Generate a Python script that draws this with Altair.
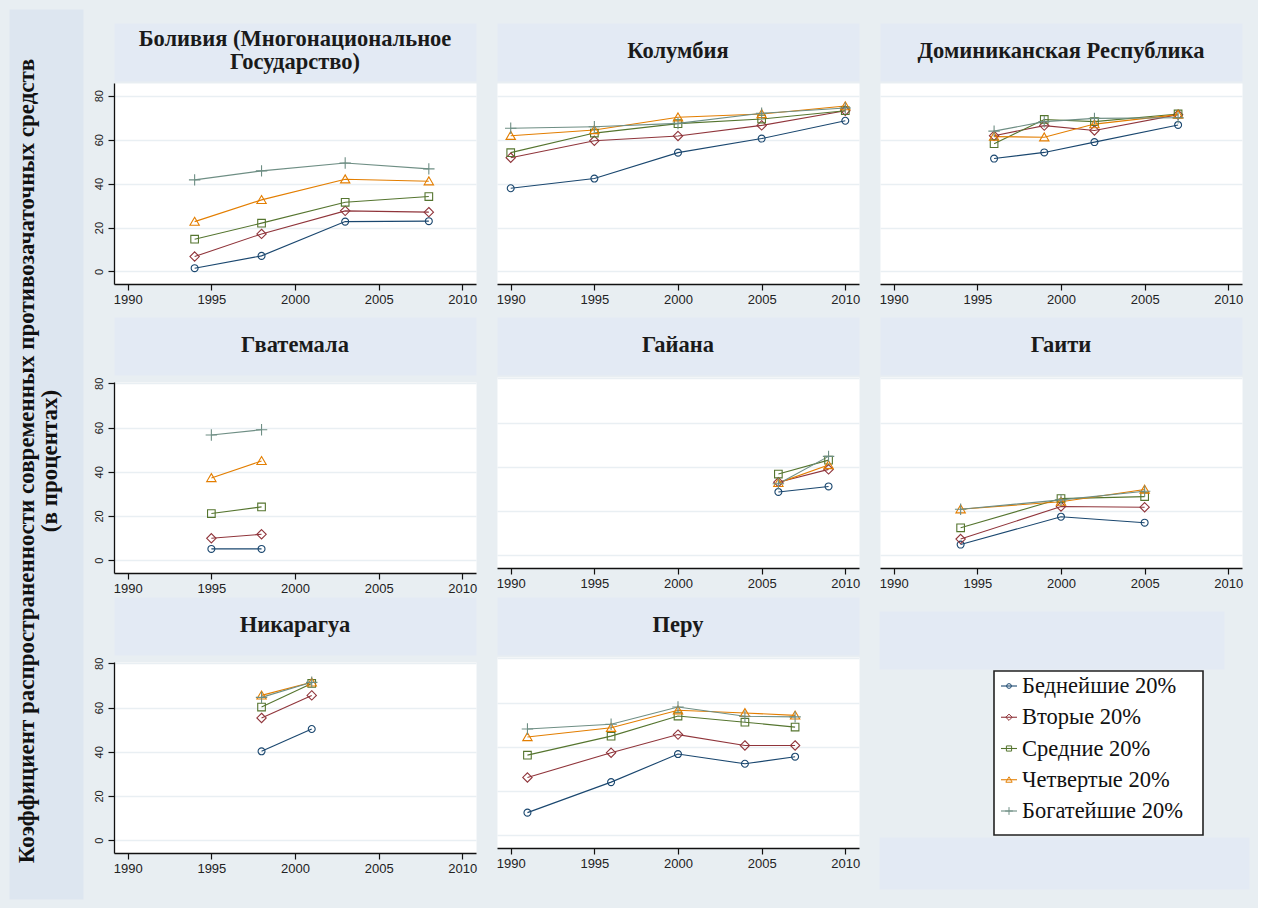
import altair as alt
import pandas as pd

# Quintile groups (legend order)
groups = ["Беднейшие 20%", "Вторые 20%", "Средние 20%", "Четвертые 20%", "Богатейшие 20%"]

# Bolivia
bolivia_years = [1994, 1998, 2003, 2008]
bolivia_poorest = [1.5, 7.1, 22.7, 22.9]
bolivia_second = [6.8, 17.1, 27.6, 27.0]
bolivia_middle = [14.7, 22.0, 31.5, 34.1]
bolivia_fourth = [22.7, 32.6, 42.0, 41.1]
bolivia_richest = [41.7, 45.8, 49.4, 46.7]

# Colombia
colombia_years = [1990, 1995, 2000, 2005, 2010]
colombia_poorest = [37.9, 42.3, 54.1, 60.5, 68.6]
colombia_second = [51.8, 59.5, 61.7, 66.5, 73.2]
colombia_middle = [54.1, 63.0, 67.3, 69.4, 73.2]
colombia_fourth = [61.8, 64.4, 70.2, 71.7, 75.3]
colombia_richest = [65.2, 65.9, 67.4, 72.0, 74.4]

# Dominican Republic
dominican_years = [1996, 1999, 2002, 2007]
dominican_poorest = [51.4, 54.2, 58.9, 66.7]
dominican_second = [61.8, 66.4, 64.2, 71.4]
dominican_middle = [58.2, 69.2, 68.2, 71.7]
dominican_fourth = [61.4, 61.1, 67.1, 71.4]
dominican_richest = [63.9, 68.2, 69.7, 70.0]

# Guatemala
guatemala_years = [1995, 1998]
guatemala_poorest = [5.1, 5.1]
guatemala_second = [9.9, 11.7]
guatemala_middle = [21.1, 24.1]
guatemala_fourth = [37.2, 44.9]
guatemala_richest = [56.6, 59.0]

# Guyana
guyana_years = [2006, 2009]
guyana_poorest = [28.6, 31.1]
guyana_second = [33.0, 38.8]
guyana_middle = [36.7, 43.0]
guyana_fourth = [32.7, 40.8]
guyana_richest = [32.3, 44.7]

# Haiti
haiti_years = [1994, 2000, 2005]
haiti_poorest = [4.8, 17.4, 14.7]
haiti_second = [7.3, 22.0, 21.7]
haiti_middle = [12.4, 25.6, 26.5]
haiti_fourth = [20.8, 24.2, 29.7]
haiti_richest = [20.8, 25.0, 28.9]

# Nicaragua
nicaragua_years = [1998, 2001]
nicaragua_poorest = [40.2, 50.3]
nicaragua_second = [55.3, 65.5]
nicaragua_middle = [60.2, 70.9]
nicaragua_fourth = [65.5, 71.4]
nicaragua_richest = [64.6, 71.4]

# Peru
peru_years = [1991, 1996, 2000, 2004, 2007]
peru_poorest = [10.2, 24.0, 36.7, 32.3, 35.5]
peru_second = [26.1, 37.3, 45.5, 40.6, 40.6]
peru_middle = [36.2, 44.8, 53.9, 51.1, 48.9]
peru_fourth = [44.4, 48.6, 56.5, 55.3, 54.2]
peru_richest = [48.0, 50.2, 58.0, 53.8, 53.5]

panels = [
    ("Боливия (Многонациональное\nГосударство)", bolivia_years,
     [bolivia_poorest, bolivia_second, bolivia_middle, bolivia_fourth, bolivia_richest]),
    ("Колумбия", colombia_years,
     [colombia_poorest, colombia_second, colombia_middle, colombia_fourth, colombia_richest]),
    ("Доминиканская Республика", dominican_years,
     [dominican_poorest, dominican_second, dominican_middle, dominican_fourth, dominican_richest]),
    ("Гватемала", guatemala_years,
     [guatemala_poorest, guatemala_second, guatemala_middle, guatemala_fourth, guatemala_richest]),
    ("Гайана", guyana_years,
     [guyana_poorest, guyana_second, guyana_middle, guyana_fourth, guyana_richest]),
    ("Гаити", haiti_years,
     [haiti_poorest, haiti_second, haiti_middle, haiti_fourth, haiti_richest]),
    ("Никарагуа", nicaragua_years,
     [nicaragua_poorest, nicaragua_second, nicaragua_middle, nicaragua_fourth, nicaragua_richest]),
    ("Перу", peru_years,
     [peru_poorest, peru_second, peru_middle, peru_fourth, peru_richest]),
]

y_title = ("Коэффициент распространенности современных противозачаточных средств\n"
           "(в процентах)")

# Styling
colors = ["#1a476f", "#90353b", "#55752f", "#e37e00", "#6e8e84"]
shapes = [
    "circle",
    "M0,-1.35L1.35,0L0,1.35L-1.35,0Z",
    "M-1.1,-1.1L1.1,-1.1L1.1,1.1L-1.1,1.1Z",
    "M0,-1.25L1.35,1.05L-1.35,1.05Z",
    "M-1.65,0L1.65,0M0,-1.65L0,1.65",
]
BG = "#e8eef2"
HEADER = "#e3eaf4"
STRIP = "#dde6f0"
SERIF = "Liberation Serif"
SANS = "Liberation Sans"
PANEL_W = 362
HEADER_H = 58
TITLE_SIZE = 22.5
TITLE_LH = 23

color_scale = alt.Scale(domain=groups, range=colors)
shape_scale = alt.Scale(domain=groups, range=shapes)


def make_panel(title, years, series, row, col):
    records = []
    for g, vals in zip(groups, series):
        for yr, v in zip(years, vals):
            records.append({"group": g, "year": yr, "value": v})
    df = pd.DataFrame(records)

    if row == 0:
        plot_h, y_dom = 201, [-5.7, 85.8]
    else:
        plot_h, y_dom = 191, [-5.8, 80.6]

    show_y = col == 0
    x_enc = alt.X(
        "year:Q",
        scale=alt.Scale(domain=[1989.18, 2010.82], nice=False, zero=False),
        axis=alt.Axis(values=[1990, 1995, 2000, 2005, 2010], format="d", title=None,
                      grid=False, tickSize=6, tickColor="#111", tickWidth=1.2,
                      domainColor="#111", domainWidth=1.3, labelFont=SANS,
                      labelFontSize=13, labelColor="#222", labelPadding=3,
                      labelFlush=False),
    )
    y_enc = alt.Y(
        "value:Q",
        scale=alt.Scale(domain=y_dom, nice=False, zero=False),
        axis=alt.Axis(values=[0, 20, 40, 60, 80], title=None, grid=True,
                      gridColor="#e9eff3", gridWidth=1.6, labels=show_y,
                      ticks=show_y, domain=show_y, tickSize=6, tickColor="#111",
                      tickWidth=1.2, domainColor="#111", domainWidth=1.3,
                      labelAngle=270, labelAlign="center", labelBaseline="bottom",
                      labelFont=SANS, labelFontSize=11, labelColor="#222",
                      labelPadding=4),
    )
    base = alt.Chart(df).encode(
        x=x_enc,
        y=y_enc,
        color=alt.Color("group:N", scale=color_scale, legend=None),
    )
    lines = base.mark_line(strokeWidth=1.1).encode(detail="group:N")
    points = base.mark_point(filled=False, strokeWidth=1.1, opacity=1, size=48).encode(
        shape=alt.Shape("group:N", scale=shape_scale, legend=None)
    )
    plot = alt.layer(lines, points).properties(
        width=PANEL_W, height=plot_h,
        view=alt.ViewBackground(fill="white", stroke="transparent"),
    )
    n_lines = title.count("\n") + 1
    header = alt.Chart(pd.DataFrame({"t": [title]})).mark_text(
        font=SERIF, fontWeight="bold", fontSize=TITLE_SIZE, lineBreak="\n",
        lineHeight=TITLE_LH, color="#1a1a1a", dy=-12 * (n_lines - 1) - 1,
    ).encode(text="t:N").properties(
        width=PANEL_W, height=HEADER_H,
        view=alt.ViewBackground(fill=HEADER, stroke="transparent"),
    )
    return alt.vconcat(header, plot, spacing=0)


def spacer(w, h, fill=None):
    ch = alt.Chart(pd.DataFrame({"a": [0]})).mark_point(opacity=0, size=0).encode(
        x=alt.value(0), y=alt.value(0)
    )
    if fill:
        return ch.properties(width=w, height=h,
                             view=alt.ViewBackground(fill=fill, stroke="transparent"))
    return ch.properties(width=w, height=h)


# Legend drawn in the empty ninth cell
legend_df = pd.DataFrame({"group": groups, "rank": list(range(len(groups)))})
ly = alt.Y("rank:Q", scale=alt.Scale(domain=[0, 4], range=[15, 140], nice=False,
                                     zero=False), axis=None)
leg_base = alt.Chart(legend_df).encode(y=ly)
leg_rule = leg_base.mark_rule(strokeWidth=1.1).encode(
    x=alt.value(7), x2=alt.value(23),
    color=alt.Color("group:N", scale=color_scale, legend=None),
)
leg_pt = leg_base.mark_point(filled=False, strokeWidth=1.0, opacity=1, size=22).encode(
    x=alt.value(15),
    color=alt.Color("group:N", scale=color_scale, legend=None),
    shape=alt.Shape("group:N", scale=shape_scale, legend=None),
)
leg_txt = leg_base.mark_text(align="left", baseline="middle", font=SERIF,
                             fontSize=22.5, color="#111").encode(
    x=alt.value(28), text="group:N"
)
legend_box = alt.layer(leg_rule, leg_pt, leg_txt).properties(
    width=209, height=164,
    view=alt.ViewBackground(fill="white", stroke="#222", strokeWidth=1.6),
)
legend_cell = alt.vconcat(
    spacer(10, 12),
    spacer(345, 58, HEADER),
    alt.hconcat(spacer(113, 164), legend_box, spacing=0),
    spacer(370, 52, HEADER),
    spacing=0,
)

cells = [make_panel(t, yrs, s, i // 3, i % 3) for i, (t, yrs, s) in enumerate(panels)]
row1 = alt.hconcat(cells[0], cells[1], cells[2], spacing=17)
row2 = alt.hconcat(cells[3], cells[4], cells[5], spacing=17)
row3 = alt.hconcat(cells[6], cells[7], legend_cell, spacing=17)
upper = alt.vconcat(spacer(10, 3), row1, row2, spacing=9)
grid = alt.vconcat(upper, row3, spacing=0)

y_strip = alt.Chart(pd.DataFrame({"t": [y_title]})).mark_text(
    angle=270, font=SERIF, fontWeight="bold", fontSize=23, lineBreak="\n",
    lineHeight=23, color="#111",
).encode(text="t:N", x=alt.value(18), y=alt.value(452)).properties(
    width=74, height=890,
    view=alt.ViewBackground(fill=STRIP, stroke="transparent"),
)

chart = alt.hconcat(y_strip, grid, spacing=8).properties(
    background=BG,
    padding={"left": 8, "top": 8, "right": 8, "bottom": 8},
).configure_view(stroke="transparent")

chart.save("out.html", embed_options={"renderer": "svg", "actions": False})
